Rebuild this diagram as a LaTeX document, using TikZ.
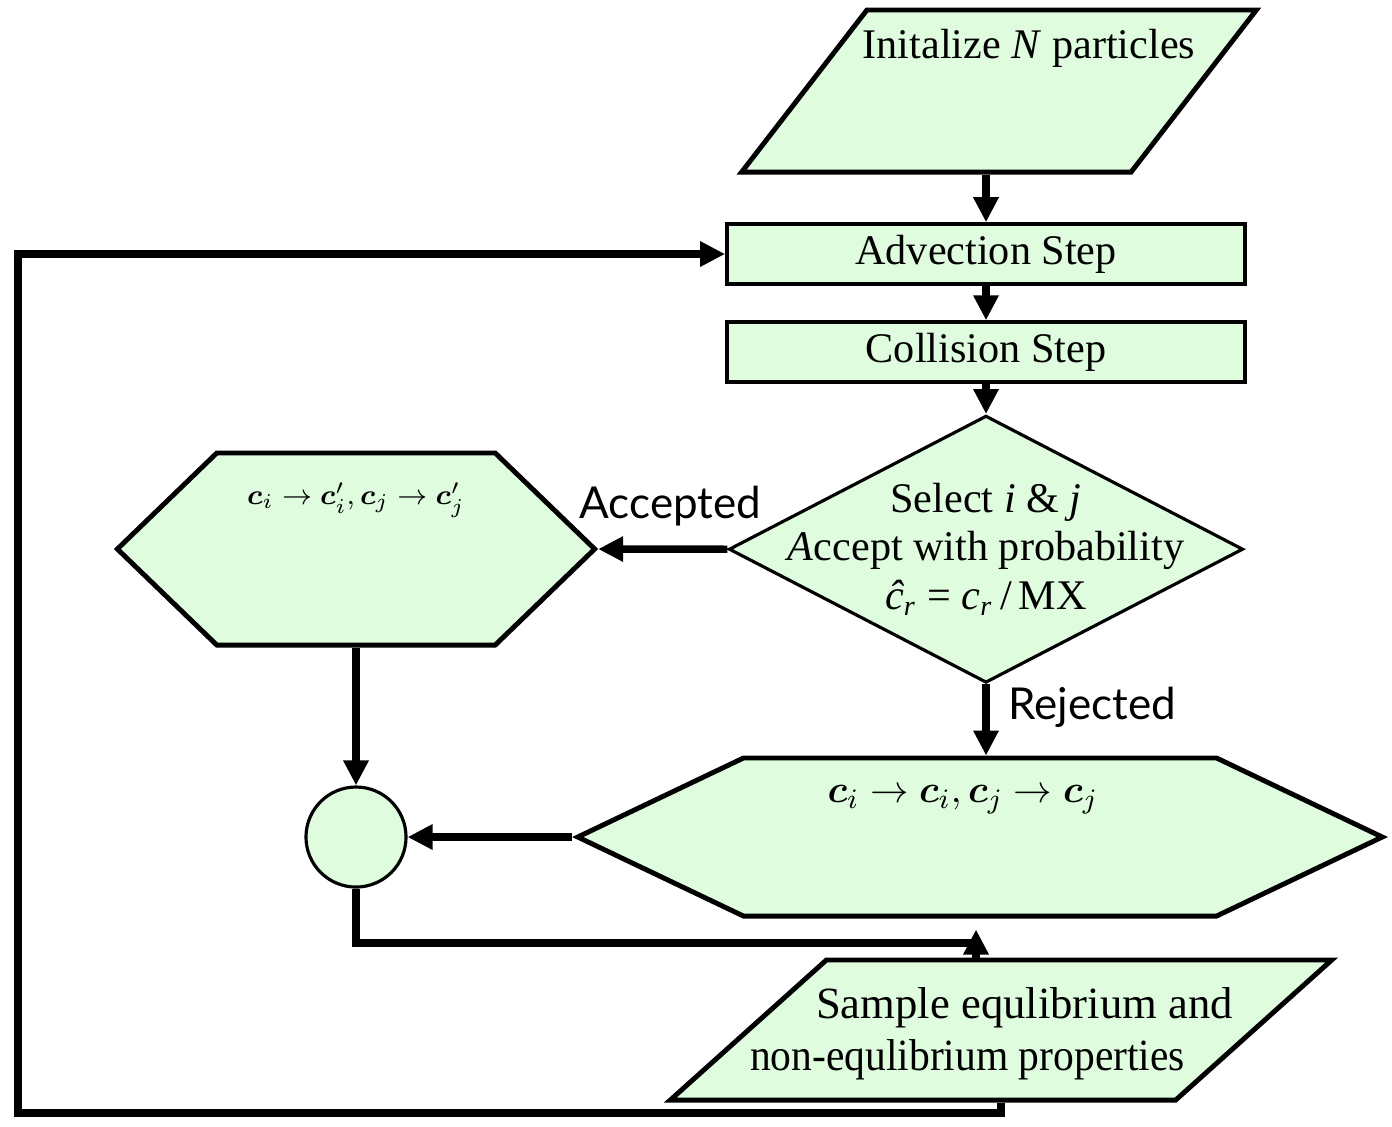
\documentclass[tikz,border=0pt]{standalone}
\usepackage{fontspec}
\usepackage{amsmath}
\usepackage{graphicx}
\setmainfont{Liberation Serif}
\newfontfamily\branchfont{Lato}
\usetikzlibrary{shapes.geometric,shapes.symbols}
\usetikzlibrary{arrows.meta,positioning}

\definecolor{boxgreen}{RGB}{223,252,223}

\tikzset{
  stepbox/.style={rectangle, draw, line width=1pt, fill=boxgreen,
    minimum width=5.18cm, minimum height=0.6cm, inner sep=0pt},
  iobox/.style={trapezium, draw, line width=1.4pt,
    fill=boxgreen, inner sep=0pt, text depth=0pt},
  hexbox/.style={signal, signal to=east and west, draw, line width=1.4pt,
    fill=boxgreen, inner sep=0pt},
  decide/.style={diamond, draw, line width=0.9pt, fill=boxgreen,
    minimum width=5.14cm, minimum height=2.67cm, inner sep=0pt},
  joint/.style={circle, draw, line width=0.9pt, fill=boxgreen,
    minimum size=1cm, inner sep=0pt},
  flow/.style={line width=2.1pt},
  branch/.style={font=\branchfont\fontsize{12.5}{14}\selectfont},
}

\begin{document}
\begin{tikzpicture}[x=0.01cm, y=-0.01cm, node distance=0.98cm, auto,
    >={Triangle[length=0.25cm,width=0.24cm]},
    font=\fontsize{12}{14.2}\selectfont]

    \useasboundingbox (0,0) rectangle (1392,1126);

    \node[iobox, trapezium left angle=52.3, trapezium right angle=127.7,
          text width=2.64cm, text height=1.62cm,
          label={[anchor=center, xshift=0.3cm, yshift=0.43cm]center:Initalize \textit{N} particles}]
          (init) at (999,91) {};
    \node[stepbox] (advect) at (986,254) {Advection Step}
    	edge[flow,<-] (advect.north |- init.south);
    \node[stepbox, below of=advect] (collide) {Collision Step}
    	edge[flow,<-] (advect);
    \node[decide, below of=collide, node distance=1.97cm,
          label={[anchor=center, align=center, font=\fontsize{12}{13.8}\selectfont]center:Select \textit{i} \& \textit{j}\\\textit{A}ccept with probability\\\textit{ĉ\textsubscript{r}} = \textit{c\textsubscript{r}}\,/\,MX}]
          (select) {}
    	edge[flow,<-] (collide);

    % accepted / rejected branches
    \node[hexbox, signal pointer angle=88, minimum width=4.77cm, minimum height=1.92cm,
          label={[anchor=center, yshift=0.49cm, font=\fontsize{8}{10}\selectfont]center:$\boldsymbol{c}_i\to\boldsymbol{c}'_i,\boldsymbol{c}_j\to\boldsymbol{c}'_j$}]
          (accepted) at (356,549) {};
    \node[hexbox, signal pointer angle=51, minimum width=8.04cm, minimum height=1.58cm,
          label={[anchor=center, xshift=-0.17cm, yshift=0.37cm, font=\fontsize{11}{13}\selectfont]center:$\boldsymbol{c}_i\to\boldsymbol{c}_i,\boldsymbol{c}_j\to\boldsymbol{c}_j$}]
          (rejected) at (980,837) {};
    \node[joint] (merge) at (356,837) {};

    \draw[flow,->] (select.west) -- node[branch, above=0.08cm, pos=0.44] {Accepted} (accepted.east);
    \draw[flow,->] (select.south) -- node[branch, right=0.07cm, pos=0.32] {Rejected} (select.south |- rejected.north);
    \draw[flow,->] (accepted.south) -- (merge.north);
    \draw[flow,->] (rejected.west) -- (merge.east);

    % sampling and loop back
    \node[iobox, trapezium left angle=41.9, trapezium right angle=138.1,
          text width=3.49cm, text height=1.4cm,
          label={[anchor=center, align=left, xshift=-0.095cm, yshift=-0.04cm, font=\fontsize{12.7}{14.8}\selectfont]center:\hspace*{0.66cm}Sample equlibrium and\\\scalebox{0.93}[1]{non-equlibrium properties}}]
          (sample) at (1001,1030) {};
    \coordinate (meet) at (976,943);
    \coordinate (back) at (18,1113);
    \draw[flow] (merge.south) |- (meet);
    \draw[flow,->] (sample.north -| meet) -- ++(0,0.28cm);
    \draw[flow,->] (sample.south) |- (back) |- (advect.west);

\end{tikzpicture}
\end{document}
